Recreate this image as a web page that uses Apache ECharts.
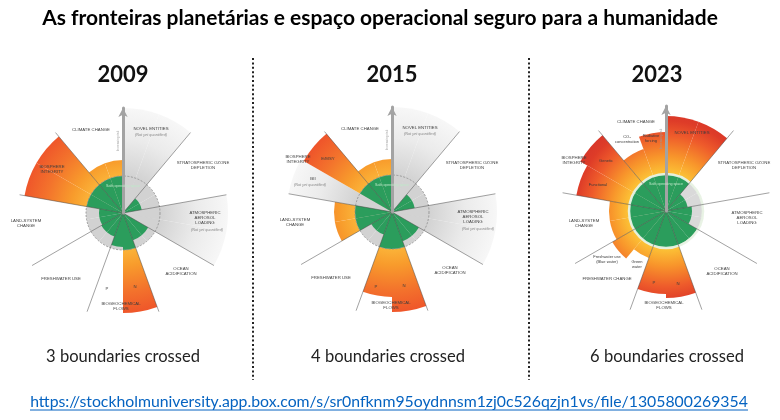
<!DOCTYPE html>
<html>
<head>
<meta charset="utf-8">
<script src="https://cdn.jsdelivr.net/npm/echarts@6/dist/echarts.min.js"></script>
<style>
  html, body { margin: 0; padding: 0; background: #fff; }
  #main { width: 780px; height: 420px; }
</style>
</head>
<body>
<div id="main"></div>
<script>
// texts
var title = 'As fronteiras planetárias e espaço operacional seguro para a humanidade';
var years = ['2009', '2015', '2023'];
var crossed = ['3 boundaries crossed', '4 boundaries crossed', '6 boundaries crossed'];
var link = 'https://stockholmuniversity.app.box.com/s/sr0nfknm95oydnnsm1zj0c526qzjn1vs/file/1305800269354';

// 9 boundaries, and 18 sub-sectors of 20 degrees, clockwise from 12 o'clock
var boundaries = ['Novel entities', 'Ozone', 'Aerosol', 'Ocean', 'Biogeochemical', 'Freshwater', 'Land', 'Biosphere', 'Climate'];
var subsectors = ['NE a', 'NE b', 'O3 a', 'O3 b', 'Aerosol a', 'Aerosol b', 'Ocean a', 'Ocean b',
  'N', 'P', 'Freshwater a', 'Freshwater b', 'Land a', 'Land b', 'BI a', 'BI b', 'Climate a', 'Climate b'];

// control variable, boundary = 37, null = not yet quantified
var BOUNDARY = 37;
var RMAX = 105;
var status2009 = [null, null, 19, 19, null, null, 29, 29, 100, 34, 25, 25, 24, 24, 100, 100, 53, 53];
var status2015 = [null, null, 23, 23, null, null, 31, 31, 100, 85, 24, 24, 58, 58, null, 102, 53, 53];
var status2023 = [95, 95, 22, 22, 26, 26, 36, 36, 87, 83, 50, 62, 57, 57, 91, 99, 66, 79];
var statusAll = [status2009, status2015, status2023];

// layout
var CENTERS = [[123, 213], [392, 212], [666, 211]];
var R = 105;
var yearX = [123, 392, 657];
var crossedX = [123, 388, 667];

// sector labels: text, dx, dy from centre, kind
var labels2009 = [
  ['CLIMATE CHANGE', -32, -83, 'cap'],
  ['NOVEL ENTITIES', 28, -84, 'cap'], ['(Not yet quantified)', 28, -78, 'note'],
  ['STRATOSPHERIC OZONE\nDEPLETION', 80, -48, 'cap'],
  ['ATMOSPHERIC\nAEROSOL\nLOADING', 82, 5, 'cap'], ['(Not yet quantified)', 84, 17, 'note'],
  ['OCEAN\nACIDIFICATION', 58, 58, 'cap'],
  ['BIOGEOCHEMICAL\nFLOWS', -2, 93, 'cap'],
  ['P', -16, 76, 'cap'], ['N', 12, 74, 'cap'],
  ['FRESHWATER USE', -62, 66, 'cap'],
  ['LAND-SYSTEM\nCHANGE', -97, 10, 'cap'],
  ['BIOSPHERE\nINTEGRITY', -71, -44, 'cap'],
  ['Safe operating space', 0, -27, 'safe']
];
var labels2015 = [
  ['CLIMATE CHANGE', -32, -83, 'cap'],
  ['NOVEL ENTITIES', 28, -84, 'cap'], ['(Not yet quantified)', 28, -78, 'note'],
  ['STRATOSPHERIC OZONE\nDEPLETION', 80, -47, 'cap'],
  ['ATMOSPHERIC\nAEROSOL\nLOADING', 81, 5, 'cap'], ['(Not yet quantified)', 86, 17, 'note'],
  ['OCEAN\nACIDIFICATION', 58, 58, 'cap'],
  ['BIOGEOCHEMICAL\nFLOWS', -1, 93, 'cap'],
  ['P', -16, 75, 'cap'], ['N', 12, 74, 'cap'],
  ['FRESHWATER USE', -61, 66, 'cap'],
  ['LAND-SYSTEM\nCHANGE', -97, 10, 'cap'],
  ['BIOSPHERE\nINTEGRITY', -94, -53, 'cap'],
  ['E/MSY', -64, -53, 'cap'],
  ['BII', -79, -33, 'cap'], ['(Not yet quantified)', -82, -27, 'note'],
  ['Safe operating space', 0, -27, 'safe']
];
var labels2023 = [
  ['CLIMATE CHANGE', -30, -89, 'cap'],
  ['CO\u2082\nconcentration', -39, -72, 'sub'],
  ['Radiative\nforcing', -15, -73, 'sub'],
  ['NOVEL ENTITIES', 26, -78, 'cap'],
  ['STRATOSPHERIC OZONE\nDEPLETION', 78, -46, 'cap'],
  ['ATMOSPHERIC\nAEROSOL\nLOADING', 81, 7, 'cap'],
  ['OCEAN\nACIDIFICATION', 56, 60, 'cap'],
  ['BIOGEOCHEMICAL\nFLOWS', -2, 94, 'cap'],
  ['P', -12, 72, 'cap'], ['N', 12, 73, 'cap'],
  ['FRESHWATER CHANGE', -59, 68, 'cap'],
  ['Freshwater use\n(Blue water)', -59, 48, 'sub'],
  ['Green\nwater', -29, 53, 'sub'],
  ['LAND-SYSTEM\nCHANGE', -82, 12, 'cap'],
  ['BIOSPHERE\nINTEGRITY', -92, -51, 'cap'],
  ['Genetic', -60, -50, 'sub'],
  ['Functional', -68, -26, 'sub'],
  ['Safe operating space', 0, -27, 'safe']
];
var labelsAll = [labels2009, labels2015, labels2023];

var orangeStops = [
  [[0.33, '#fbb63a'], [0.5, '#f89c2c'], [0.75, '#f3722c'], [1, '#ee502a']],
  [[0.33, '#fbb63a'], [0.5, '#f89c2c'], [0.75, '#f3722c'], [1, '#ee502a']],
  [[0.36, '#fcc236'], [0.52, '#f8962b'], [0.72, '#ee5b2b'], [0.86, '#de3c28'], [1, '#d4332a']]
];
var greyStops = [[0, '#b9b9b9'], [0.35, '#d2d2d2'], [0.7, '#ebebeb'], [1, '#f7f7f7']];

function radial(c, stops) {
  return {
    type: 'radial', x: c[0], y: c[1], r: R, global: true,
    colorStops: stops.map(function (s) { return { offset: s[0], color: s[1] }; })
  };
}

function fitSize(text, weight, family, width) {
  var ctx = document.createElement('canvas').getContext('2d');
  ctx.font = weight + ' 100px ' + family;
  return 100 * width / ctx.measureText(text).width;
}

var myChart = echarts.init(document.getElementById('main'));

var polar = [], angleAxis = [], radiusAxis = [], series = [], graphic = [];
var hidden = { axisTick: { show: false }, axisLabel: { show: false } };

CENTERS.forEach(function (c, k) {
  polar.push({ center: c, radius: R });
  angleAxis.push(Object.assign({
    polarIndex: k, type: 'category', data: subsectors, startAngle: 90, clockwise: true,
    boundaryGap: true, axisLine: { show: false }, splitLine: { show: false }
  }, hidden));
  radiusAxis.push(Object.assign({
    polarIndex: k, type: 'value', min: 0, max: RMAX, z: 6,
    axisLine: { show: true, symbol: ['none', 'arrow'], symbolSize: [7, 9], lineStyle: { color: '#a3a3a3', width: 3 } },
    splitLine: { show: false }
  }, hidden));

  var vals = statusAll[k];
  var common = { type: 'bar', coordinateSystem: 'polar', polarIndex: k, barGap: '-100%', barCategoryGap: '0%', silent: true };
  series.push(Object.assign({}, common, {
    name: 'not quantified',
    data: vals.map(function (v) { return v === null ? RMAX : '-'; }),
    itemStyle: { color: radial(c, greyStops) }
  }));
  series.push(Object.assign({}, common, {
    name: 'beyond boundary',
    data: vals.map(function (v) { return v !== null && v > BOUNDARY ? v : '-'; }),
    itemStyle: { color: radial(c, orangeStops[k]) }
  }));
  series.push(Object.assign({}, common, {
    name: 'uncertainty zone',
    data: vals.map(function () { return BOUNDARY; }),
    itemStyle: { color: k === 2 ? '#d9d9d9' : '#d2d2d2' }
  }));
  series.push(Object.assign({}, common, {
    name: 'safe',
    data: vals.map(function (v) { return v === null ? '-' : Math.min(v, BOUNDARY); }),
    itemStyle: { color: '#2b9d5c' }
  }));
});

// boundary circle, one overlay polar per year
CENTERS.forEach(function (c, k) {
  polar.push({ center: c, radius: BOUNDARY / RMAX * R });
  angleAxis.push(Object.assign({
    polarIndex: 3 + k, type: 'value', min: 0, max: 360, z: 4,
    axisLine: { show: true, lineStyle: k === 2
      ? { color: 'rgba(232,242,228,0.95)', width: 2.5 }
      : { color: '#8a8a8a', width: 0.8, type: [2, 1.5] } },
    splitLine: { show: false }
  }, hidden));
  radiusAxis.push({ polarIndex: 3 + k, type: 'value', min: 0, max: 1, show: false });
});

// divider lines between the 9 boundaries
CENTERS.forEach(function (c, k) {
  polar.push({ center: c, radius: R });
  angleAxis.push(Object.assign({
    polarIndex: 6 + k, type: 'category', data: boundaries, startAngle: 90, clockwise: true,
    boundaryGap: true, z: 5, axisLine: { show: false },
    splitLine: { show: true, interval: 0, lineStyle: { color: 'rgba(70,70,70,0.5)', width: 1 } }
  }, hidden));
  radiusAxis.push({ polarIndex: 6 + k, type: 'value', min: 0, max: RMAX, show: false });
});

// sector labels
var kinds = {
  cap: { fontSize: 4.3, fill: '#3d3d3d', fontStyle: 'normal' },
  note: { fontSize: 3.8, fill: '#8a8a8a', fontStyle: 'italic' },
  sub: { fontSize: 4, fill: '#3a3a3a', fontStyle: 'normal' },
  safe: { fontSize: 3.6, fill: '#bfe8c9', fontStyle: 'normal' }
};
labelsAll.forEach(function (list, k) {
  var c = CENTERS[k];
  list.forEach(function (l) {
    var s = kinds[l[3]];
    graphic.push({
      type: 'text', x: c[0] + l[1], y: c[1] + l[2], z: 20, silent: true,
      style: {
        text: l[0], fontSize: s.fontSize, fontFamily: 'Liberation Sans',
        fontStyle: s.fontStyle, fill: s.fill, textAlign: 'center', textVerticalAlign: 'middle',
        lineHeight: s.fontSize * 1.2
      }
    });
  });
  graphic.push({
    type: 'text', x: c[0] - 5, y: c[1] - 72, rotation: Math.PI / 2, z: 20, silent: true,
    style: { text: 'Increasing risk', fontSize: 3.2, fontFamily: 'Liberation Sans', fill: '#9a9a9a',
      textAlign: 'center', textVerticalAlign: 'middle' }
  });
});

// headings
graphic.push({
  type: 'text', x: 380, y: 18, z: 20,
  style: { text: title, fontSize: fitSize(title, 'bold', 'Lato', 676), fontFamily: 'Lato', fontWeight: 'bold',
    fill: '#000', textAlign: 'center', textVerticalAlign: 'middle' }
});
years.forEach(function (y, k) {
  graphic.push({
    type: 'text', x: yearX[k], y: 75, z: 20,
    style: { text: y, fontSize: fitSize(y, 'bold', 'Lato', 51), fontFamily: 'Lato', fontWeight: 'bold',
      fill: '#111', textAlign: 'center', textVerticalAlign: 'middle' }
  });
  graphic.push({
    type: 'text', x: crossedX[k], y: 357, z: 20,
    style: { text: crossed[k], fontSize: fitSize(crossed[k], 'normal', 'Lato', 154), fontFamily: 'Lato',
      fill: '#222', textAlign: 'center', textVerticalAlign: 'middle' }
  });
});

// source link with underline
var linkSize = fitSize(link, 'normal', 'Lato', 718);
graphic.push({
  type: 'text', x: 389, y: 402, z: 20,
  style: { text: link, fontSize: linkSize, fontFamily: 'Lato', fill: '#0563c1',
    textAlign: 'center', textVerticalAlign: 'middle' }
});
graphic.push({
  type: 'line', z: 20, shape: { x1: 30, y1: 410, x2: 748, y2: 410 },
  style: { stroke: '#0563c1', lineWidth: 1 }
});

// dotted dividers
[253, 529].forEach(function (x) {
  graphic.push({
    type: 'line', z: 20, shape: { x1: x, y1: 58, x2: x, y2: 380 },
    style: { stroke: '#222', lineWidth: 2, lineDash: [2, 2.4] }
  });
});

var option = {
  animation: false,
  backgroundColor: '#fff',
  polar: polar,
  angleAxis: angleAxis,
  radiusAxis: radiusAxis,
  series: series,
  graphic: graphic
};

myChart.setOption(option);
</script>
</body>
</html>
